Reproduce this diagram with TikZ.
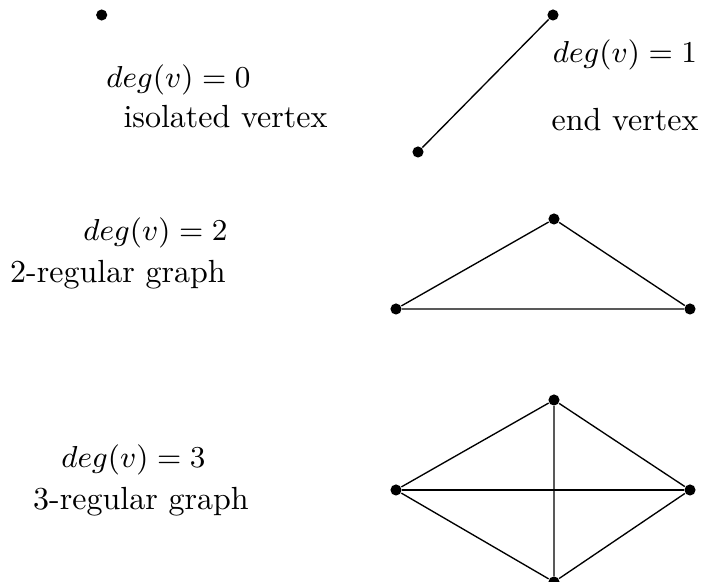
\documentclass[tikz,border=0pt]{standalone}
\begin{document}
\begin{tikzpicture}[x=0.1043cm, y=0.1043cm, every node/.style={font=\fontsize{9.5}{11}\selectfont},
  vtx/.style={circle, fill, inner sep=0pt, minimum size=3.3pt}]
  \useasboundingbox (0,0) rectangle (71.1,58.2);
  % isolated vertex
  \node[vtx] (v0) at (10.17,56.7) {};
  \node (d0) at (17.85,50.2) {$deg(v)=0$};
  \node (t0) at (22.55,46.5) {isolated vertex};
  % end vertex
  \node[vtx] (a1) at (55.3,56.7) {}; \node[vtx] (b1) at (41.8,43.0) {};
  \draw (a1) -- (b1);
  \node (d1) at (62.5,52.7) {$deg(v)=1$};
  \node (t1) at (62.5,46.2) {end vertex};
  % 2-regular
  \node[vtx] (t) at (55.4,36.3) {}; \node[vtx] (l) at (39.6,27.3) {}; \node[vtx] (r) at (69.0,27.3) {};
  \draw (t) -- (l) -- (r) -- (t);
  \node (d2) at (15.55,34.9) {$deg(v)=2$};
  \node (t2) at (11.8,30.7) {2-regular graph};
  % 3-regular
  \node[vtx] (n) at (55.4,18.2) {}; \node[vtx] (w) at (39.6,9.2) {};
  \node[vtx] (e) at (69.0,9.2) {}; \node[vtx] (s) at (55.4,0) {};
  \draw (n) -- (w) -- (s) -- (e) -- (n) -- (s);
  \draw (w) -- (e);
  \node (d3) at (13.35,12.2) {$deg(v)=3$};
  \node (t3) at (14.1,8.0) {3-regular graph};
\end{tikzpicture}
\end{document}
